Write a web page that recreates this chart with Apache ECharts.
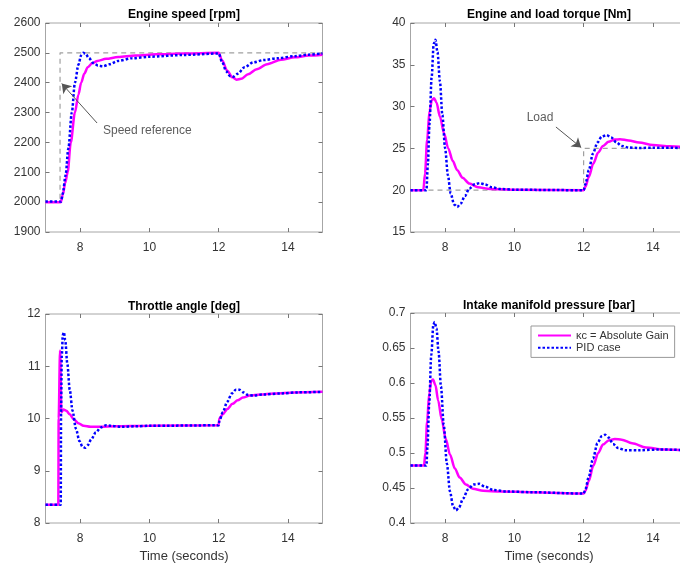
<!DOCTYPE html>
<html><head><meta charset="utf-8">
<script src="https://cdn.jsdelivr.net/npm/echarts@6/dist/echarts.min.js"></script>
<style>html,body{margin:0;padding:0;background:#fff}#c{width:680px;height:566px}</style>
</head><body><div id="c"></div>
<script>
// ---- data (time in seconds, value) ----
const xTicks = [8, 10, 12, 14];
const titles = ['Engine speed [rpm]', 'Engine and load torque [Nm]', 'Throttle angle [deg]', 'Intake manifold pressure [bar]'];
const xLabel = 'Time (seconds)';
const nameKc = 'κc = Absolute Gain';
const namePid = 'PID case';

const speedRef = [[7,2000],[7.42,2000],[7.42,2500],[15,2500]];
const speedKc = [[7,2000],[7.44,2000],[7.5,2025],[7.57,2065],[7.64,2100],[7.73,2200],[7.85,2300],[7.95,2360],[8.03,2400],[8.12,2430],[8.22,2452],[8.35,2465],[8.5,2473],[8.75,2480],[9.1,2486],[9.6,2491],[10.2,2495],[11,2498],[12,2500],[12.1,2475],[12.25,2440],[12.4,2418],[12.52,2410],[12.65,2413],[12.85,2428],[13.1,2445],[13.4,2462],[13.8,2477],[14.2,2485],[14.6,2491],[15,2494]];
const speedPid = [[7,2002],[7.45,2002],[7.5,2030],[7.58,2090],[7.66,2180],[7.76,2300],[7.85,2400],[7.95,2460],[8.03,2492],[8.09,2500],[8.16,2497],[8.25,2483],[8.38,2466],[8.52,2457],[8.66,2455],[8.85,2462],[9.1,2473],[9.5,2482],[10,2487],[11,2493],[12,2498],[12.1,2470],[12.22,2438],[12.33,2422],[12.42,2420],[12.55,2430],[12.75,2452],[13,2468],[13.3,2476],[13.7,2482],[14.2,2489],[14.6,2494],[15,2498]];

const torqueLoad = [[7,20],[12,20],[12,25],[15,25]];
const torqueKc = [[7,20],[7.37,20],[7.42,22],[7.48,26],[7.55,29.5],[7.62,30.8],[7.68,31],[7.75,30.5],[7.85,28.8],[7.97,26.8],[8.09,25],[8.22,23.5],[8.35,22.4],[8.5,21.5],[8.7,20.8],[8.95,20.35],[9.3,20.15],[10,20.05],[12,20],[12.05,20.4],[12.15,21.6],[12.28,23.2],[12.42,24.5],[12.56,25.3],[12.72,25.8],[12.9,26.05],[13.05,26.1],[13.3,25.95],[13.6,25.7],[14,25.4],[14.5,25.25],[15,25.15]];
const torquePid = [[7,20],[7.46,20],[7.5,23],[7.55,28],[7.61,33.5],[7.67,37.5],[7.72,38],[7.78,36.5],[7.85,33],[7.92,29],[8.0,25],[8.08,21.8],[8.16,19.6],[8.26,18.3],[8.35,18],[8.45,18.4],[8.57,19.3],[8.7,20.2],[8.85,20.7],[9.0,20.85],[9.15,20.7],[9.35,20.35],[9.6,20.15],[10,20.05],[12,20],[12.05,20.7],[12.15,22.4],[12.27,24.4],[12.4,25.7],[12.52,26.4],[12.66,26.6],[12.8,26.3],[12.95,25.7],[13.1,25.3],[13.3,25.1],[13.6,25.05],[14,25.08],[15,25.05]];

const throttleKc = [[7,8.35],[7.37,8.35],[7.38,10.0],[7.42,11.3],[7.46,10.12],[7.52,10.17],[7.6,10.15],[7.7,10.08],[7.82,9.98],[7.95,9.91],[8.1,9.86],[8.3,9.84],[8.6,9.84],[9,9.85],[10,9.86],[12,9.87],[12.02,10.0],[12.12,10.08],[12.25,10.18],[12.4,10.28],[12.55,10.35],[12.7,10.4],[12.9,10.44],[13.2,10.46],[13.6,10.48],[14.2,10.5],[15,10.51]];
const throttlePid = [[7,8.35],[7.44,8.35],[7.45,10.2],[7.47,11.2],[7.5,11.6],[7.53,11.65],[7.57,11.5],[7.63,11.05],[7.7,10.55],[7.78,10.15],[7.88,9.8],[7.98,9.57],[8.07,9.46],[8.14,9.44],[8.22,9.49],[8.32,9.6],[8.45,9.73],[8.6,9.83],[8.75,9.87],[8.9,9.86],[9.2,9.84],[9.6,9.85],[10,9.86],[12,9.87],[12.02,9.95],[12.12,10.12],[12.25,10.32],[12.38,10.48],[12.5,10.55],[12.6,10.55],[12.72,10.5],[12.85,10.45],[13,10.44],[13.3,10.46],[13.8,10.48],[14.3,10.5],[15,10.51]];

const pressureKc = [[7,0.482],[7.39,0.482],[7.43,0.5],[7.48,0.545],[7.54,0.585],[7.6,0.603],[7.65,0.605],[7.72,0.597],[7.8,0.575],[7.9,0.548],[8.02,0.52],[8.14,0.498],[8.28,0.478],[8.42,0.465],[8.6,0.455],[8.8,0.449],[9.1,0.446],[9.6,0.445],[10.5,0.444],[12,0.442],[12.05,0.446],[12.15,0.46],[12.28,0.482],[12.42,0.5],[12.56,0.512],[12.72,0.518],[12.9,0.52],[13.1,0.519],[13.4,0.514],[13.8,0.508],[14.3,0.505],[15,0.504]];
const pressurePid = [[7,0.482],[7.46,0.482],[7.49,0.51],[7.54,0.57],[7.6,0.64],[7.66,0.683],[7.7,0.687],[7.75,0.678],[7.81,0.645],[7.88,0.595],[7.96,0.54],[8.05,0.485],[8.14,0.445],[8.23,0.424],[8.31,0.418],[8.4,0.422],[8.52,0.435],[8.66,0.448],[8.82,0.455],[8.98,0.456],[9.15,0.452],[9.4,0.447],[9.8,0.445],[10.5,0.444],[12,0.442],[12.05,0.448],[12.15,0.466],[12.27,0.492],[12.4,0.514],[12.52,0.524],[12.62,0.526],[12.72,0.522],[12.85,0.513],[13,0.507],[13.2,0.504],[13.6,0.504],[14.2,0.505],[15,0.504]];

const yRanges = [[1900,2600,100],[15,40,5],[8,12,1],[0.4,0.7,0.05]];
// annotations: [arrow start, arrow tip, text anchor] in data units
const speedNote = {text:'Speed reference', from:[8.49,2265], to:[7.47,2397], at:[8.66,2238]};
const loadNote = {text:'Load', from:[11.2,27.56], to:[11.93,25.1], at:[10.74,28.64]};

// ---- chart ----
const FONT = '"Liberation Sans", Arial, Helvetica, sans-serif';
const grids = [
  {left:45.5, top:23, width:277, height:209},
  {left:410.5, top:23, width:277, height:209},
  {left:45.5, top:314, width:277, height:209},
  {left:410.5, top:313, width:277, height:210}
];
const BOX = '#a6a6a6';
const tick = {show:true, inside:true, length:4, lineStyle:{color:'#777', width:1}};
const fmtY = v => String(Math.round(v * 1000) / 1000);
const xAxes = [], yAxes = [];
for (let i = 0; i < 4; i++) {
  xAxes.push({type:'value', gridIndex:i, min:7, max:15, position:'bottom',
    axisLine:{show:false}, splitLine:{show:false},
    axisTick:Object.assign({customValues:xTicks}, tick),
    axisLabel:{customValues:xTicks, color:'#333', fontSize:12, fontFamily:FONT, margin:10}});
  yAxes.push({type:'value', gridIndex:i, min:yRanges[i][0], max:yRanges[i][1], interval:yRanges[i][2], position:'left',
    axisLine:{show:false}, splitLine:{show:false}, axisTick:tick,
    axisLabel:{color:'#333', fontSize:12, fontFamily:FONT, margin:5, formatter:fmtY}});
}
for (let i = 0; i < 4; i++) {
  xAxes.push({type:'value', gridIndex:i, min:7, max:15, position:'top',
    axisLine:{show:false}, splitLine:{show:false},
    axisTick:Object.assign({customValues:xTicks}, tick), axisLabel:{show:false}});
  yAxes.push({type:'value', gridIndex:i, min:yRanges[i][0], max:yRanges[i][1], interval:yRanges[i][2], position:'right',
    axisLine:{show:false}, splitLine:{show:false}, axisTick:tick, axisLabel:{show:false}});
}

const panels = [
  {ref:speedRef, kc:speedKc, pid:speedPid, note:speedNote},
  {ref:torqueLoad, kc:torqueKc, pid:torquePid, note:loadNote},
  {ref:null, kc:throttleKc, pid:throttlePid, note:null},
  {ref:null, kc:pressureKc, pid:pressurePid, note:null}
];
const series = [];
panels.forEach((p, i) => {
  if (p.ref) {
    const s = {type:'line', xAxisIndex:i, yAxisIndex:i, data:p.ref, symbol:'none', silent:true,
      lineStyle:{color:'#a0a0a0', width:1.2, type:[5,4]}, z:1};
    if (p.note) {
      s.markLine = {silent:true, symbol:['none','arrow'], symbolSize:9, animation:false,
        lineStyle:{color:'#555', width:1, type:'solid'}, label:{show:false},
        data:[[{coord:p.note.from},{coord:p.note.to}]]};
    }
    series.push(s);
  }
  series.push({name:nameKc, type:'line', xAxisIndex:i, yAxisIndex:i, data:p.kc, symbol:'none', showSymbol:false,
    smooth:0.3, smoothMonotone:'x', lineStyle:{color:'#ff00ff', width:2.5}, itemStyle:{color:'#ff00ff'}, z:2});
  series.push({name:namePid, type:'line', xAxisIndex:i, yAxisIndex:i, data:p.pid, symbol:'none', showSymbol:false,
    smooth:0.3, smoothMonotone:'x', lineStyle:{color:'#0000ff', width:2.5, type:[2.5,2]}, itemStyle:{color:'#0000ff'}, z:3});
  if (p.note) {
    series.push({type:'scatter', xAxisIndex:i, yAxisIndex:i, data:[p.note.at], symbolSize:0, silent:true,
      label:{show:true, position:'inside', formatter:p.note.text, color:'#333', fontSize:12, fontFamily:FONT,
        align: i === 0 ? 'left' : 'center', verticalAlign:'middle'}});
  }
});

const graphics = [];
grids.forEach((g, i) => {
  graphics.push({type:'text', x:g.left + g.width/2, y:(i < 2 ? 15 : g.top - 7),
    style:{text:titles[i], font:'bold 12px ' + FONT, fill:'#000', textAlign:'center', textVerticalAlign:'middle'}});
  if (i >= 2) {
    graphics.push({type:'text', x:g.left + g.width/2, y:556,
      style:{text:xLabel, font:'13px ' + FONT, fill:'#333', textAlign:'center', textVerticalAlign:'middle'}});
  }
});

const chart = echarts.init(document.getElementById('c'), null, {renderer:'canvas'});
chart.setOption({
  animation:false,
  backgroundColor:'#fff',
  grid: grids.map(g => Object.assign({show:true, borderColor:BOX, borderWidth:1, backgroundColor:'#fff',
    containLabel:false, outerBoundsMode:'none'}, g)),
  xAxis: xAxes, yAxis: yAxes,
  legend: {data:[nameKc, namePid], orient:'vertical', left:531, top:326, align:'left',
    itemWidth:33, itemHeight:14, itemGap:1, padding:[4,6], borderColor:'#999', borderWidth:1, backgroundColor:'#fff',
    selectedMode:false, itemStyle:{opacity:0},
    textStyle:{fontSize:11, fontFamily:FONT, color:'#333'}},
  series: series,
  graphic: graphics
});
</script>
</body></html>
